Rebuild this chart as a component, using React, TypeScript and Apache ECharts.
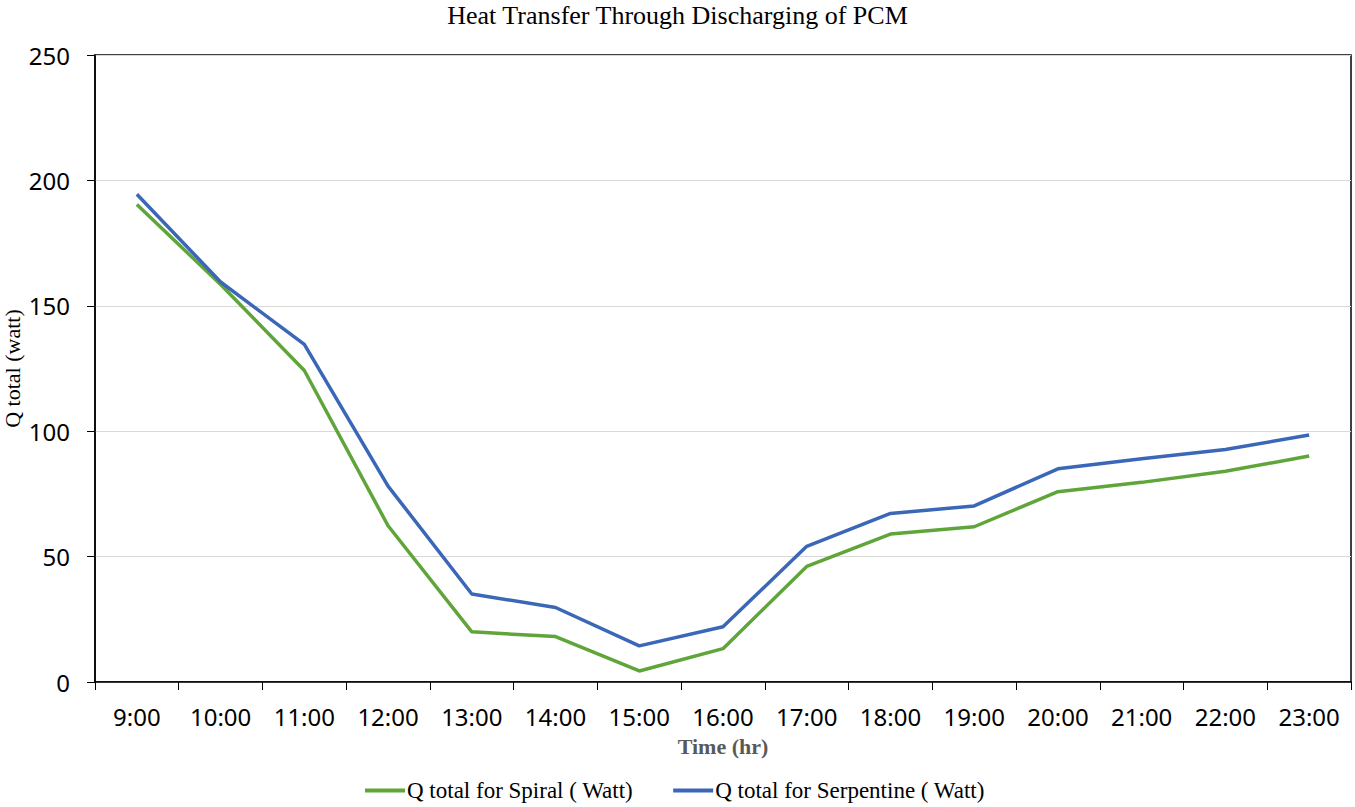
import React, { useEffect, useRef } from "react";
import * as echarts from "echarts";

const categories = ["9:00", "10:00", "11:00", "12:00", "13:00", "14:00", "15:00", "16:00", "17:00", "18:00", "19:00", "20:00", "21:00", "22:00", "23:00"];
const spiral = [190.4, 158.5, 124.2, 62.3, 20.0, 18.1, 4.4, 13.3, 46.1, 59.0, 61.9, 75.9, 79.6, 84.0, 90.1];
const serpentine = [194.5, 159.5, 134.6, 78.1, 35.1, 29.7, 14.4, 22.0, 54.1, 67.2, 70.2, 85.0, 89.0, 92.7, 98.5];
const yTicks = { min: 0, max: 250, interval: 50 };

export default function App() {
  const ref = useRef<HTMLDivElement>(null);
  useEffect(() => {
    if (!ref.current) return;
    const chart = echarts.init(ref.current, null, { renderer: "svg" });
    const serif = "'Liberation Serif', 'Times New Roman', serif";
    const sans = "'Noto Sans', 'Open Sans', sans-serif";
    chart.setOption({
      animation: false,
      backgroundColor: "#ffffff",
      title: {
        text: "Heat Transfer Through Discharging of PCM",
        left: "center",
        top: -3,
        textStyle: { fontFamily: serif, fontSize: 26, fontWeight: "normal", color: "#000" },
      },
      legend: {
        bottom: 0,
        left: 360,
        itemGap: 40,
        itemWidth: 40,
        itemHeight: 4,
        icon: "rect",
        textStyle: { fontFamily: serif, fontSize: 23, color: "#000", padding: [0, 0, 0, -3] },
        data: ["Q total for Spiral ( Watt)", "Q total for Serpentine ( Watt)"],
      },
      grid: {
        left: 95,
        right: 4,
        top: 55,
        bottom: 125,
        show: true,
        borderColor: "#000",
        borderWidth: 1.5,
        containLabel: false,
        outerBoundsMode: "none",
      },
      xAxis: {
        type: "category",
        data: categories,
        boundaryGap: true,
        name: "Time (hr)",
        nameLocation: "middle",
        nameGap: 53,
        nameMoveOverlap: false,
        nameTextStyle: { fontFamily: serif, fontSize: 22, fontWeight: "bold", color: "#595959" },
        axisLine: { lineStyle: { color: "#000", width: 1.5 } },
        axisTick: { show: true, length: 8, lineStyle: { color: "#000" } },
        axisLabel: { fontFamily: sans, fontSize: 24, color: "#000", margin: 22 },
      },
      yAxis: {
        type: "value",
        min: yTicks.min,
        max: yTicks.max,
        interval: yTicks.interval,
        name: "Q total (watt)",
        nameLocation: "middle",
        nameGap: 72,
        nameMoveOverlap: false,
        nameTextStyle: { fontFamily: serif, fontSize: 22, color: "#000" },
        axisLine: { show: true, lineStyle: { color: "#000", width: 1.5 } },
        axisTick: { show: true, length: 8, lineStyle: { color: "#000" } },
        axisLabel: { fontFamily: sans, fontSize: 24, color: "#000", margin: 25 },
        splitLine: { show: true, lineStyle: { color: "#d9d9d9", width: 1.2 } },
      },
      series: [
        {
          name: "Q total for Spiral ( Watt)",
          type: "line",
          data: spiral,
          symbol: "none",
          lineStyle: { color: "#5fa53a", width: 3.5 },
          itemStyle: { color: "#5fa53a" },
        },
        {
          name: "Q total for Serpentine ( Watt)",
          type: "line",
          data: serpentine,
          symbol: "none",
          lineStyle: { color: "#3a67b8", width: 3.5 },
          itemStyle: { color: "#3a67b8" },
        },
      ],
    });
    return () => chart.dispose();
  }, []);
  return <div ref={ref} style={{ position: "absolute", left: 0, top: 0, width: 1355, height: 807 }} />;
}
